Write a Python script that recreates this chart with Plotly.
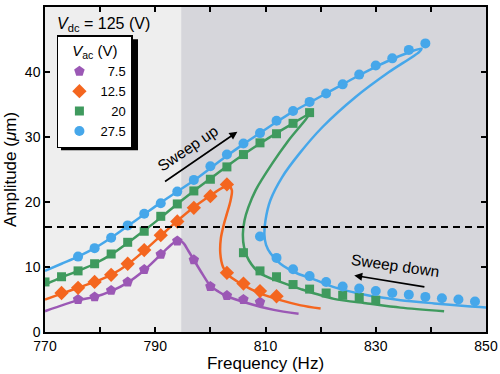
import plotly.graph_objects as go

# ---------------- data ----------------
# measured points, sweep up + sweep down, per V_ac
f_75 = [776, 779, 782, 785, 788, 791, 794, 797, 800, 803, 806, 809]
a_75 = [5.0, 5.4, 6.4, 7.7, 9.6, 11.95, 14.0, 11.1, 7.0, 5.6, 5.0, 4.6]

f_125 = [773, 776, 779, 782, 785, 788, 791, 794, 797, 800, 803, 803, 806, 809, 812]
a_125 = [6.0, 6.8, 7.7, 8.8, 10.5, 12.6, 14.9, 17.0, 19.1, 20.9, 22.7, 9.1, 7.45, 6.3, 5.5]

f_20 = [770, 773, 776, 779, 782, 785, 788, 791, 794, 797, 800, 803, 806, 809, 812, 815, 818,
        806, 809, 812, 815, 818, 821, 824, 827, 830]
a_20 = [7.7, 8.5, 9.4, 10.5, 12.0, 13.8, 15.5, 17.8, 19.7, 21.7, 23.5, 25.4, 27.3, 29.1, 30.5, 32.1, 33.75,
        12.2, 9.4, 8.5, 7.3, 6.6, 6.0, 5.65, 5.3, 4.9]

f_275 = [776, 779, 782, 785, 788, 791, 794, 797, 800, 803, 806, 809, 812, 815, 818, 821, 824, 827, 830, 833, 836, 839,
         809, 812, 815, 818, 821, 824, 827, 830, 833, 836, 839, 842, 845, 848]
a_275 = [11.6, 12.9, 14.5, 16.4, 18.2, 19.8, 21.6, 23.4, 25.5, 27.3, 29.0, 30.6, 32.5, 34.0, 35.4, 36.7, 38.1, 39.6, 41.0, 42.1, 43.4, 44.4,
         14.7, 11.4, 9.65, 8.6, 7.7, 7.0, 6.7, 6.3, 6.0, 5.75, 5.4, 5.2, 5.0, 4.7]

# fitted (theory) curves
fit_f_75 = [770, 776, 779, 782, 785, 788, 791, 793, 794.3, 795.2, 796, 797, 798.5, 800, 801.5, 803, 806.5, 811.5, 816]
fit_a_75 = [3.2, 4.9, 5.4, 6.3, 7.6, 9.5, 11.9, 13.5, 14.2, 13.6, 12.5, 11.1, 9.0, 7.1, 6.2, 5.5, 4.5, 3.4, 2.8]

fit_f_125 = [770, 773, 776, 779, 782, 785, 788, 791, 794, 797, 800, 802, 803.3, 803.9, 803.6, 803.0, 802.4,
             801.9, 801.8, 802.3, 803.3, 805.5, 809.1, 812.7, 816.4, 820]
fit_a_125 = [5.0, 5.9, 6.8, 7.7, 8.8, 10.4, 12.5, 14.8, 17.1, 19.2, 21.0, 22.1, 22.5, 21.8, 20.0, 18.2, 16.4,
             14.4, 12.1, 10.0, 8.7, 7.45, 5.9, 4.9, 4.1, 3.6]

fit_f_20 = [770, 773, 776, 779, 782, 785, 788, 791, 794, 797, 800, 803, 806, 809, 812, 815, 817.9,
            814.2, 811.2, 808.2, 806.9, 806.2, 805.9, 806.1, 807.0, 809.1, 812.7, 816.4, 822.4, 828.5, 834.5, 842.4]
fit_a_20 = [7.3, 8.4, 9.4, 10.5, 11.9, 13.7, 15.6, 17.6, 19.7, 21.7, 23.6, 25.5, 27.3, 29.0, 30.6, 32.1, 33.5,
            29.5, 25.9, 21.8, 19.2, 17.2, 15.1, 13.1, 11.0, 9.0, 7.7, 6.6, 5.1, 4.4, 3.75, 3.2]

fit_f_275 = [770, 773, 776, 779, 782, 785, 788, 791, 794, 797, 800, 803, 806, 809, 812, 815, 818, 821, 824, 827, 830, 833, 836, 838.3,
             837.9, 832.4, 826.4, 820.3, 816.1, 813.0, 810.9, 810.0, 809.8, 810.1, 810.9, 812.7, 815.8, 818.8, 822.4, 828.5, 834.5, 840.6, 846.7, 850.3]
fit_a_275 = [9.4, 10.5, 11.6, 12.9, 14.5, 16.3, 18.1, 19.9, 21.6, 23.3, 25.2, 27.1, 28.9, 30.6, 32.3, 33.9, 35.3, 36.7, 38.1, 39.5, 40.8, 42.0, 43.0, 43.6,
             43.1, 40.0, 36.2, 31.5, 27.4, 23.8, 20.3, 17.2, 15.0, 13.4, 12.1, 10.5, 9.0, 8.1, 6.9, 5.65, 4.9, 4.4, 3.95, 3.75]

labels = ["\u20077.5", "12.5", "\u2007\u200820", "27.5"]
colors = ["#9b58b5", "#f4661f", "#3f9a5e", "#46a7ea"]
symbols = ["pentagon", "diamond", "square", "circle"]
sizes = [11, 11, 9, 10]

x_tickvals = [770, 780, 790, 800, 810, 820, 830, 840, 850]
x_ticktext = ["770", "", "790", "", "810", "", "830", "", "850"]
y_tickvals = [0, 10, 20, 30, 40, 50]

split_f = 794.7     # boundary of shaded regions
dash_level = 16.15  # horizontal dashed line

FONT = "Liberation Sans, Arial, Helvetica, sans-serif"

fig = go.Figure()

fits = [(fit_f_75, fit_a_75), (fit_f_125, fit_a_125), (fit_f_20, fit_a_20), (fit_f_275, fit_a_275)]
for (fx, fy), c in zip(fits, colors):
    fig.add_trace(go.Scatter(x=fx, y=fy, mode="lines", line=dict(color=c, width=2.5, shape="spline", smoothing=0.8),
                             showlegend=False, hoverinfo="skip"))

meas = [(f_75, a_75), (f_125, a_125), (f_20, a_20), (f_275, a_275)]
for (mx, my), c, s, sz, lab in zip(meas, colors, symbols, sizes, labels):
    fig.add_trace(go.Scatter(x=mx, y=my, mode="markers", name=lab,
                             marker=dict(color=c, symbol=s, size=sz, line=dict(width=0))))

shapes = [
    dict(type="rect", xref="x", yref="paper", x0=770, x1=split_f, y0=0, y1=1,
         fillcolor="#eeeeee", line=dict(width=0), layer="below"),
    dict(type="rect", xref="x", yref="paper", x0=split_f, x1=850, y0=0, y1=1,
         fillcolor="#d6d6db", line=dict(width=0), layer="below"),
    dict(type="line", xref="paper", yref="y", x0=0, x1=1, y0=dash_level, y1=dash_level,
         line=dict(color="black", width=2, dash="7px,5px")),
    # legend drop shadow
    dict(type="rect", xref="paper", yref="paper", x0=0.0363, x1=0.2109, y0=0.559, y1=0.9006,
         fillcolor="black", line=dict(width=0), layer="above"),
]

annotations = [
    dict(x=771.8, y=47.3, xref="x", yref="y", xanchor="left", yanchor="middle", showarrow=False,
         text="<i>V</i><sub>dc</sub> = 125 (V)", font=dict(size=16, color="black", family=FONT)),
    dict(x=795.8, y=28.3, xref="x", yref="y", showarrow=False, text="Sweep up", textangle=-34,
         font=dict(size=15.5, color="black", family=FONT)),
    dict(x=804.9, y=30.8, ax=791.5, ay=23.0, xref="x", yref="y", axref="x", ayref="y",
         showarrow=True, arrowhead=2, arrowsize=1, arrowwidth=1.6, arrowcolor="black", text=""),
    dict(x=833.6, y=10.3, xref="x", yref="y", showarrow=False, text="Sweep down", textangle=8,
         font=dict(size=15.5, color="black", family=FONT)),
    dict(x=826.1, y=8.7, ax=839.1, ay=6.9, xref="x", yref="y", axref="x", ayref="y",
         showarrow=True, arrowhead=2, arrowsize=1, arrowwidth=1.6, arrowcolor="black", text=""),
]

fig.update_layout(
    width=500, height=374,
    margin=dict(l=45, r=14, t=7, b=42),
    paper_bgcolor="white", plot_bgcolor="white",
    font=dict(family=FONT, size=14, color="black"),
    shapes=shapes, annotations=annotations,
    showlegend=True,
    legend=dict(x=0.027, y=0.913, xanchor="left", yanchor="top",
                bgcolor="white", bordercolor="black", borderwidth=1.5,
                title=dict(text="<i>V</i><sub>ac</sub> (V)", side="top center", font=dict(size=15)),
                font=dict(size=13), tracegroupgap=0, itemwidth=32),
    xaxis=dict(range=[770, 850], tickvals=x_tickvals, ticktext=x_ticktext, automargin=False,
               ticks="inside", ticklen=5, tickwidth=1.5, tickcolor="black",
               showline=True, linecolor="black", linewidth=1.5, mirror="ticks",
               showgrid=False, zeroline=False,
               title=dict(text="Frequency (Hz)", font=dict(size=17), standoff=4),
               tickfont=dict(size=14)),
    yaxis=dict(range=[0, 50], tickvals=y_tickvals, automargin=False,
               ticks="inside", ticklen=5, tickwidth=1.5, tickcolor="black",
               showline=True, linecolor="black", linewidth=1.5, mirror="ticks",
               showgrid=False, zeroline=False,
               title=dict(text="Amplitude (<i>μ</i>m)", font=dict(size=17), standoff=4),
               tickfont=dict(size=14)),
)

fig.write_html("out.html", config={"displayModeBar": False},
               post_script="document.body.style.margin='0px';")
